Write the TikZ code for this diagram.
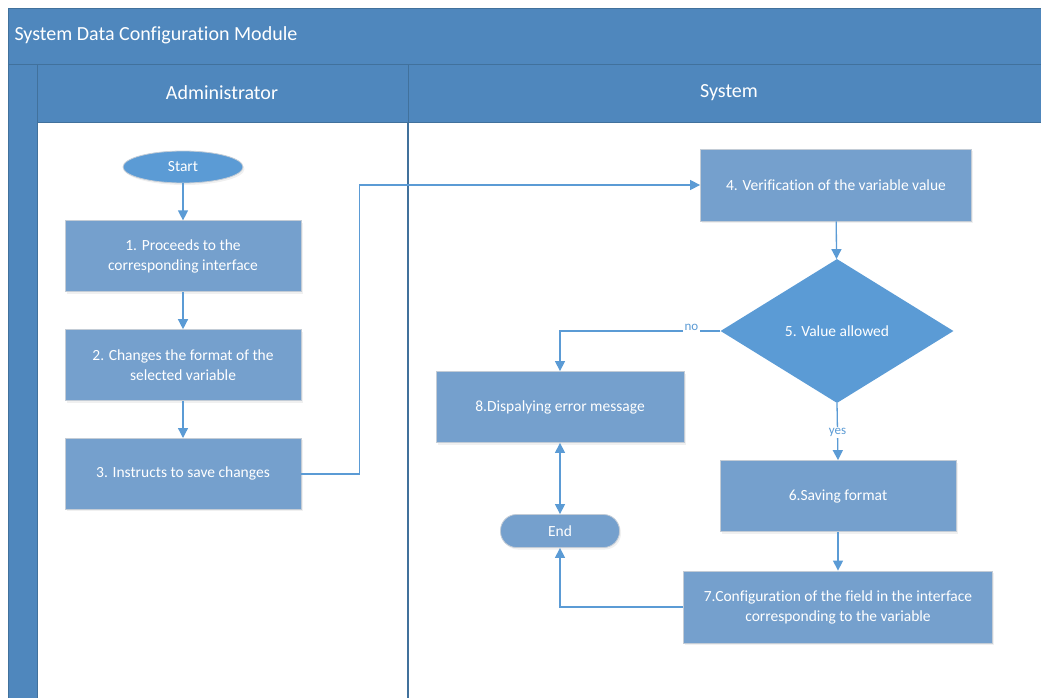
\documentclass[tikz,border=0pt]{standalone}
\usepackage{fontspec}
\setmainfont{Carlito}[Ligatures=NoCommon]
\usetikzlibrary{arrows.meta,positioning,shapes.geometric,shadows}
\definecolor{laneblue}{HTML}{4F87BD}
\definecolor{laneedge}{HTML}{41719C}
\definecolor{boxblue}{HTML}{75A0CD}
\definecolor{brightblue}{HTML}{5B9BD5}
\definecolor{boxedge}{HTML}{C3CCD6}
\tikzset{
  stepbox/.style={
    draw=boxedge,
    line width=0.8pt,
    fill=boxblue,
    minimum width=236pt,
    minimum height=71pt,
    align=center,
    text=white,
    font=\fontsize{15.5}{20}\selectfont,
    drop shadow={opacity=0.12,shadow xshift=1.5pt,shadow yshift=-2pt}
  },
  termnode/.style={
    draw=boxedge,
    line width=0.8pt,
    minimum width=119pt,
    minimum height=33pt,
    text=white,
    font=\fontsize{15.5}{20}\selectfont,
    drop shadow={opacity=0.12,shadow xshift=1.5pt,shadow yshift=-2pt}
  },
  decision/.style={
    diamond,
    fill=brightblue,
    minimum width=233pt,
    minimum height=144pt,
    inner sep=0pt,
    text=white,
    font=\fontsize{15.5}{20}\selectfont
  },
  lanehead/.style={fill=laneblue,draw=laneedge,line width=0.8pt},
  flowarrow/.style={-{Triangle[length=10pt,width=10pt]},line width=1.3pt,draw=brightblue},
  branchlabel/.style={fill=white,inner sep=1.5pt,text=brightblue,font=\fontsize{13}{15}\selectfont}
}

\begin{document}
\begin{tikzpicture}[x=1pt,y=-1pt,node distance=37pt]
\useasboundingbox (0,0) rectangle (1041,698);
\clip (0,0) rectangle (1041,698);
% swimlane frame
\draw[lanehead] (8,8) rectangle (1050,64);
\draw[lanehead] (8,64) rectangle (37,710);
\draw[lanehead] (37,64) rectangle (408,122);
\draw[lanehead] (408,64) rectangle (1050,122);
\draw[laneedge,line width=0.8pt] (37,122) -- (37,710);
\draw[laneedge,line width=1.6pt] (408,122) -- (408,710);
\node[anchor=west,text=white,font=\fontsize{20}{24}\selectfont] (title) at (11,35) {System Data Configuration Module};
\node[text=white,font=\fontsize{20}{24}\selectfont] (adminhead) at (222,93) {Administrator};
\node[text=white,font=\fontsize{20}{24}\selectfont] (systemhead) at (729,93) {System};

% administrator lane
\node[termnode,ellipse,fill=brightblue,minimum width=120pt,minimum height=32pt] (start) at (183,167) {Start};
\node[stepbox,below=of start] (proceed) {1. Proceeds to the\\corresponding interface};
\node[stepbox,below=of proceed] (change) {2. Changes the format of the\\selected variable};
\node[stepbox,below=of change] (save) {3. Instructs to save changes};

% system lane
\node[stepbox,minimum width=271pt,minimum height=72pt] (verify) at (836,185) {4. Verification of the variable value};
\node[decision] (allowed) at (837,331) {5. Value allowed};
\node[stepbox,minimum width=248pt] (error) at (560,407) {8.Dispalying error message};
\node[stepbox] (saving) at (838,496) {6.Saving format};
\node[stepbox,minimum width=309pt,minimum height=72pt] (config) at (838,607) {7.Configuration of the field in the interface\\corresponding to the variable};
\node[termnode,fill=boxblue,rounded corners=16pt] (ending) at (560,531) {End};

\draw[flowarrow] (start) -- (proceed);
\draw[flowarrow] (proceed) -- (change);
\draw[flowarrow] (change) -- (save);
\draw[flowarrow] (save.east) -- ++(58,0) |- (verify.west);
\draw[flowarrow] (verify) -- (allowed);
\draw[flowarrow] (allowed.west) -| node[branchlabel,pos=0.09,yshift=4pt] {no} (error.north);
\draw[flowarrow] (allowed.south) -- node[branchlabel,pos=0.52] {yes} (saving.north);
\draw[flowarrow] (saving) -- (config);
\draw[flowarrow] (config.west) -| (ending.south);
\draw[flowarrow,{Triangle[length=10pt,width=10pt]}-{Triangle[length=10pt,width=10pt]}] (ending.north) -- (error.south);
\end{tikzpicture}
\end{document}
